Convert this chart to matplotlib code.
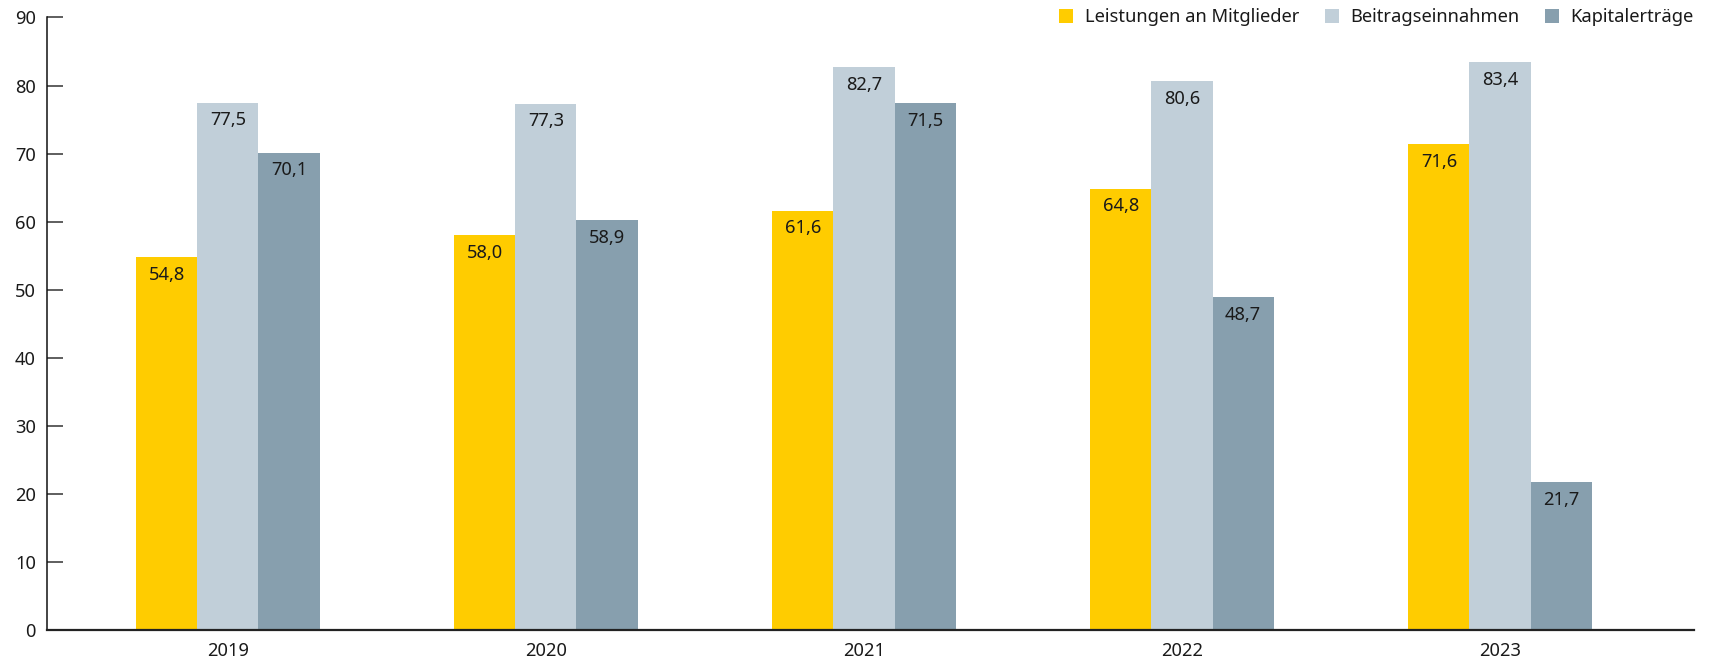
import matplotlib
matplotlib.use("Agg")
import matplotlib.pyplot as plt
from matplotlib.lines import Line2D
import numpy as np

plt.rcParams['font.family'] = ['Noto Sans', 'DejaVu Sans']

years = ["2019", "2020", "2021", "2022", "2023"]
series_names = ["Leistungen an Mitglieder", "Beitragseinnahmen", "Kapitalerträge"]
# bar heights as drawn in the reference
leistungen = [54.8, 58.0, 61.6, 64.8, 71.4]
beitraege = [77.5, 77.3, 82.7, 80.6, 83.4]
kapital = [70.1, 60.2, 77.4, 48.9, 21.7]
# printed value labels
leistungen_labels = ["54,8", "58,0", "61,6", "64,8", "71,6"]
beitraege_labels = ["77,5", "77,3", "82,7", "80,6", "83,4"]
kapital_labels = ["70,1", "58,9", "71,5", "48,7", "21,7"]
colors = ["#FFCC00", "#C1CFD9", "#879FAE"]
yticks = [0, 10, 20, 30, 40, 50, 60, 70, 80, 90]

fig = plt.figure(figsize=(17.18, 6.63), dpi=100)
ax = fig.add_axes([47/1718, 1 - 630/663, (1694 - 47)/1718, (630 - 17.5)/663])

x = np.arange(len(years))
w = 0.192
fs = 13.2
for i, (vals, labs, c) in enumerate(zip([leistungen, beitraege, kapital],
                                        [leistungen_labels, beitraege_labels, kapital_labels],
                                        colors)):
    xs = x + (i - 1) * w
    ax.bar(xs, vals, width=w, color=c, linewidth=0)
    for xi, v, lab in zip(xs, vals, labs):
        ax.annotate(lab, (xi, v), xytext=(0, -16.2),
                    textcoords="offset points", ha="center", va="baseline",
                    fontsize=fs, color="#1a1a1a")

ax.set_xlim(-0.569, 4.61)
ax.set_ylim(0, 90)
ax.set_yticks(yticks)
ax.set_yticklabels([str(t) for t in yticks], fontsize=fs, color="#1a1a1a")
ax.set_xticks(x)
ax.set_xticklabels(years, fontsize=fs, color="#1a1a1a")
ax.tick_params(axis="y", direction="in", length=11.5, width=1.1, color="#333333", pad=8)
ax.tick_params(axis="x", length=0, pad=9)
for s in ["top", "right"]:
    ax.spines[s].set_visible(False)
ax.spines["left"].set_linewidth(1.1)
ax.spines["left"].set_color("#111111")
ax.spines["bottom"].set_linewidth(1.6)
ax.spines["bottom"].set_color("#222222")

handles = [Line2D([], [], marker="s", linestyle="none", markersize=10,
                  markerfacecolor=c, markeredgewidth=0) for c in colors]
leg = ax.legend(handles, series_names, loc="center right", bbox_to_anchor=(1.0, 1.0),
                ncol=3, frameon=False, fontsize=fs, borderaxespad=0, borderpad=0,
                handlelength=0.8, handletextpad=0.6, columnspacing=1.4)
for t in leg.get_texts():
    t.set_color("#1a1a1a")

fig.savefig("out.png", dpi=100, facecolor="white")
